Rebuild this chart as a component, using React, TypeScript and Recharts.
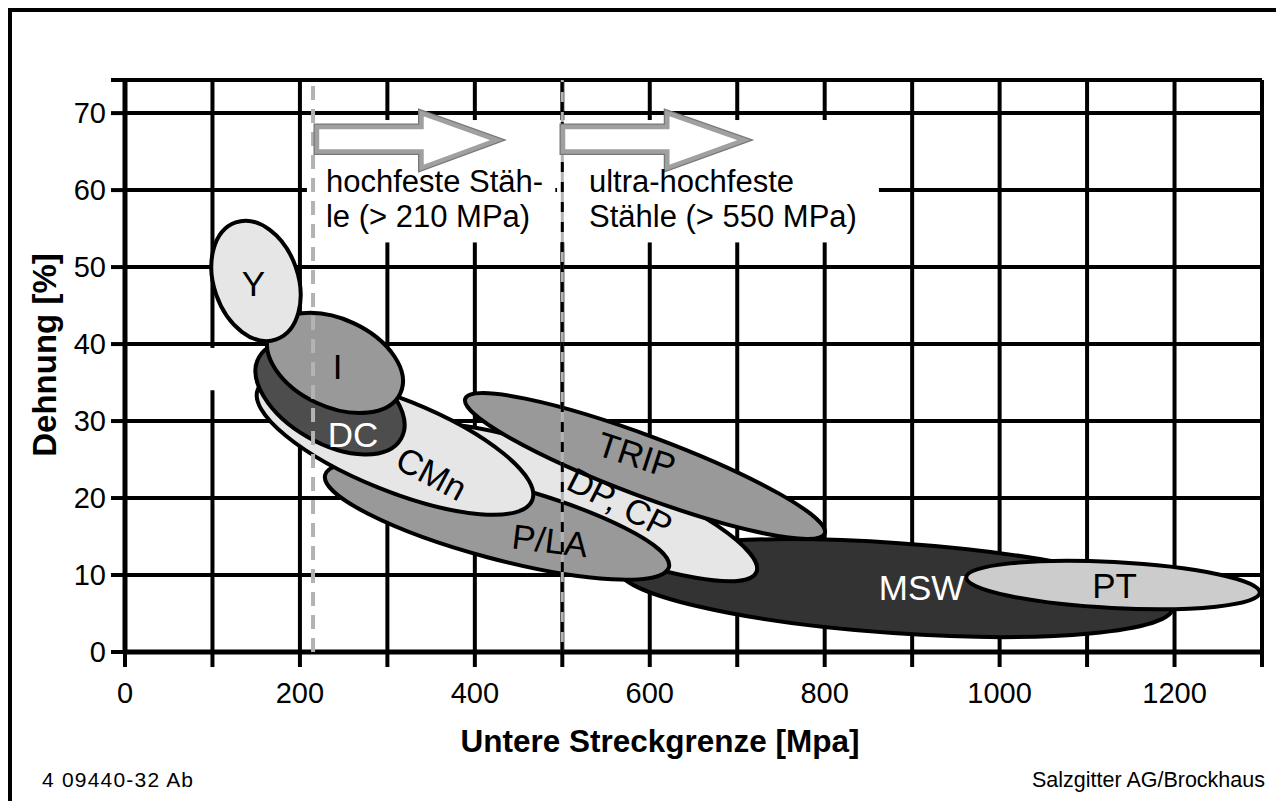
import React from 'react';
import { ScatterChart, Scatter, XAxis, YAxis, CartesianGrid } from 'recharts';

const FONT = '"Liberation Sans", Arial, Helvetica, sans-serif';

// Achsen
const xTicks = [0, 100, 200, 300, 400, 500, 600, 700, 800, 900, 1000, 1100, 1200, 1300];
const yTicks = [0, 10, 20, 30, 40, 50, 60, 70, 74.3];
const X_MAX = 1300;
const Y_MAX = 74.3;

// Stahlsorten: Hauptachse von (fromX, fromY) nach (toX, toY), Reihenfolge = Zeichenreihenfolge
const grades = ['MSW', 'PT', 'DP, CP', 'TRIP', 'P/LA', 'CMn', 'DC', 'I', 'Y'];
const fromX = [564.5, 961.8, 329.9, 389, 228.8, 151.8, 153.2, 165.4, 126.6];
const fromY = [10.8, 9.7, 28.4, 32.9, 23.0, 34.1, 38.3, 41.5, 55.8];
const toX = [1198.6, 1297.5, 722, 800.1, 621.9, 465.6, 315.6, 314.8, 172.9];
const toY = [5.8, 7.7, 10.4, 15.4, 11.0, 19.7, 27.7, 33.6, 40.6];
// Verhaeltnis Neben- zu Hauptachse
const widthRatio = [0.162, 0.156, 0.216, 0.156, 0.21, 0.31, 0.55, 0.61, 0.68];
// Beschriftung
const labelX = [910.7, 1131.4, 566, 585, 486, 350.7, 260.7, 243, 146.9];
const labelY = [8.4, 8.7, 19.4, 25.6, 14.5, 23.2, 28.2, 37.1, 47.9];

// Grenzen hochfest / ultra-hochfest
const limits = [215, 500];

// Pfeile
const arrowStart = [219.5, 500.8];
const arrowHeadBase = [339, 620];
const arrowTip = [425, 707.7];
const arrowLevels = { shaftTop: 68.2, shaftBottom: 65.0, headTop: 70.0, headBottom: 62.9, tip: 66.5 };

// Texte
const noteLines = [
  ['hochfeste Stäh-', 'le (> 210 MPa)'],
  ['ultra-hochfeste', 'Stähle (> 550 MPa)'],
];
const noteX = [229.8, 530.5];
const noteY = [59.8, 59.8];

// weisse Flaechen hinter Texten
const boxX1 = [88, 208, 494];
const boxX2 = [146, 492, 862];
const boxY1 = [34.0, 53.2, 53.2];
const boxY2 = [39.5, 69.1, 69.1];

const fills = ['#333333', '#cccccc', '#e6e6e6', '#999999', '#999999', '#e6e6e6', '#4d4d4d', '#999999', '#e6e6e6'];
const labelColors = ['#fff', '#000', '#000', '#000', '#000', '#000', '#fff', '#000', '#000'];
const labelAngles = [0, 0, 27, 18, 7, 28, 0, 0, 0];

const noShape = () => <g />;

const ellipseLine = (i: number) => (props: any) => {
  const [p, q] = props.points;
  const cx = (p.x + q.x) / 2;
  const cy = (p.y + q.y) / 2;
  const rx = Math.hypot(q.x - p.x, q.y - p.y) / 2;
  const ry = rx * widthRatio[i];
  const angle = (Math.atan2(q.y - p.y, q.x - p.x) * 180) / Math.PI;
  return (
    <ellipse
      cx={cx}
      cy={cy}
      rx={rx}
      ry={ry}
      transform={`rotate(${angle} ${cx} ${cy})`}
      fill={fills[i]}
      stroke="#000"
      strokeWidth={4}
    />
  );
};

const boxLine = (props: any) => {
  const [p, q] = props.points;
  return (
    <rect
      x={Math.min(p.x, q.x)}
      y={Math.min(p.y, q.y)}
      width={Math.abs(q.x - p.x)}
      height={Math.abs(q.y - p.y)}
      fill="#fff"
    />
  );
};

const arrowLine = (props: any) => {
  const pts = props.points.map((pt: any) => `${pt.x},${pt.y}`).join(' ');
  return (
    <g>
      <polygon points={pts} fill="#fff" stroke="#777" strokeWidth={7} strokeLinejoin="miter" />
      <polygon points={pts} fill="#fff" stroke="#a0a0a0" strokeWidth={4.5} strokeLinejoin="miter" />
    </g>
  );
};

const arrowData = (k: number) => [
  { x: arrowStart[k], y: arrowLevels.shaftTop },
  { x: arrowHeadBase[k], y: arrowLevels.shaftTop },
  { x: arrowHeadBase[k], y: arrowLevels.headTop },
  { x: arrowTip[k], y: arrowLevels.tip },
  { x: arrowHeadBase[k], y: arrowLevels.headBottom },
  { x: arrowHeadBase[k], y: arrowLevels.shaftBottom },
  { x: arrowStart[k], y: arrowLevels.shaftBottom },
];

const gradeLabel = (props: any) => {
  const i = props.payload.i;
  const { cx, cy } = props;
  return (
    <text
      x={cx}
      y={cy}
      textAnchor="middle"
      dominantBaseline="central"
      fontSize={35}
      fontFamily={FONT}
      fill={labelColors[i]}
      transform={labelAngles[i] ? `rotate(${labelAngles[i]} ${cx} ${cy})` : undefined}
    >
      {grades[i]}
    </text>
  );
};

const noteLabel = (props: any) => {
  const k = props.payload.k;
  return (
    <text x={props.cx} y={props.cy} fontSize={31} fontFamily={FONT} fill="#000">
      {noteLines[k].map((line, j) => (
        <tspan key={j} x={props.cx} dy={j === 0 ? 0 : 35}>
          {line}
        </tspan>
      ))}
    </text>
  );
};

export default function App() {
  return (
    <div style={{ position: 'absolute', left: 0, top: 0, width: 1276, height: 801, background: '#fff' }}>
      <ScatterChart width={1276} height={801} margin={{ top: 80, right: 14, bottom: 0, left: 0 }}>
        <CartesianGrid stroke="#000" strokeWidth={4} />
        <XAxis
          type="number"
          dataKey="x"
          domain={[0, X_MAX]}
          ticks={xTicks}
          interval={0}
          tickFormatter={(v: number) => (v % 200 === 0 && v < X_MAX ? String(v) : '')}
          height={149}
          axisLine={{ stroke: '#000', strokeWidth: 5 }}
          tickLine={{ stroke: '#000', strokeWidth: 4 }}
          tickSize={15}
          tickMargin={15}
          tick={{ fill: '#000', fontSize: 29, fontFamily: FONT }}
        />
        <YAxis
          type="number"
          dataKey="y"
          domain={[0, Y_MAX]}
          ticks={yTicks}
          interval={0}
          tickFormatter={(v: number) => (v <= 70 ? String(v) : '')}
          width={125}
          axisLine={{ stroke: '#000', strokeWidth: 5 }}
          tickLine={{ stroke: '#000', strokeWidth: 4 }}
          tickSize={14}
          tickMargin={5}
          tick={{ fill: '#000', fontSize: 29, fontFamily: FONT }}
        />

        {boxX1.map((_, b) => (
          <Scatter
            key={`box${b}`}
            data={[
              { x: boxX1[b], y: boxY1[b] },
              { x: boxX2[b], y: boxY2[b] },
            ]}
            line={boxLine}
            shape={noShape}
            isAnimationActive={false}
          />
        ))}

        {grades.map((g, i) => (
          <Scatter
            key={g}
            data={[
              { x: fromX[i], y: fromY[i] },
              { x: toX[i], y: toY[i] },
            ]}
            line={ellipseLine(i)}
            shape={noShape}
            isAnimationActive={false}
          />
        ))}

        <Scatter
          data={[
            { x: limits[0], y: 0 },
            { x: limits[0], y: Y_MAX },
          ]}
          line={{ stroke: '#b3b3b3', strokeWidth: 4, strokeDasharray: '14 9' }}
          shape={noShape}
          isAnimationActive={false}
        />
        <Scatter
          data={[
            { x: limits[1], y: 0 },
            { x: limits[1], y: Y_MAX },
          ]}
          line={{ stroke: '#b3b3b3', strokeWidth: 3 }}
          shape={noShape}
          isAnimationActive={false}
        />
        <Scatter
          data={[
            { x: limits[1], y: 0 },
            { x: limits[1], y: Y_MAX },
          ]}
          line={{ stroke: '#000', strokeWidth: 3, strokeDasharray: '10 10' }}
          shape={noShape}
          isAnimationActive={false}
        />

        {arrowStart.map((_, k) => (
          <Scatter key={`arrow${k}`} data={arrowData(k)} line={arrowLine} shape={noShape} isAnimationActive={false} />
        ))}

        <Scatter
          data={grades.map((_, i) => ({ x: labelX[i], y: labelY[i], i }))}
          shape={gradeLabel}
          isAnimationActive={false}
        />
        <Scatter
          data={noteLines.map((_, k) => ({ x: noteX[k], y: noteY[k], k }))}
          shape={noteLabel}
          isAnimationActive={false}
        />
      </ScatterChart>

      <svg
        width={1276}
        height={801}
        style={{ position: 'absolute', left: 0, top: 0, pointerEvents: 'none' }}
        fontFamily={FONT}
      >
        <rect x={10} y={10} width={1300} height={820} fill="none" stroke="#000" strokeWidth={4} />
        <text x={660} y={752} textAnchor="middle" fontSize={31.5} fontWeight="bold" fill="#000">
          Untere Streckgrenze [Mpa]
        </text>
        <text
          x={56}
          y={355}
          textAnchor="middle"
          fontSize={33}
          fontWeight="bold"
          fill="#000"
          transform="rotate(-90 56 355)"
        >
          Dehnung [%]
        </text>
        <text x={42} y={787} fontSize={21} letterSpacing={1.2} fill="#000">
          4 09440-32 Ab
        </text>
        <text x={1265} y={787} textAnchor="end" fontSize={21.5} fill="#000">
          Salzgitter AG/Brockhaus
        </text>
      </svg>
    </div>
  );
}
